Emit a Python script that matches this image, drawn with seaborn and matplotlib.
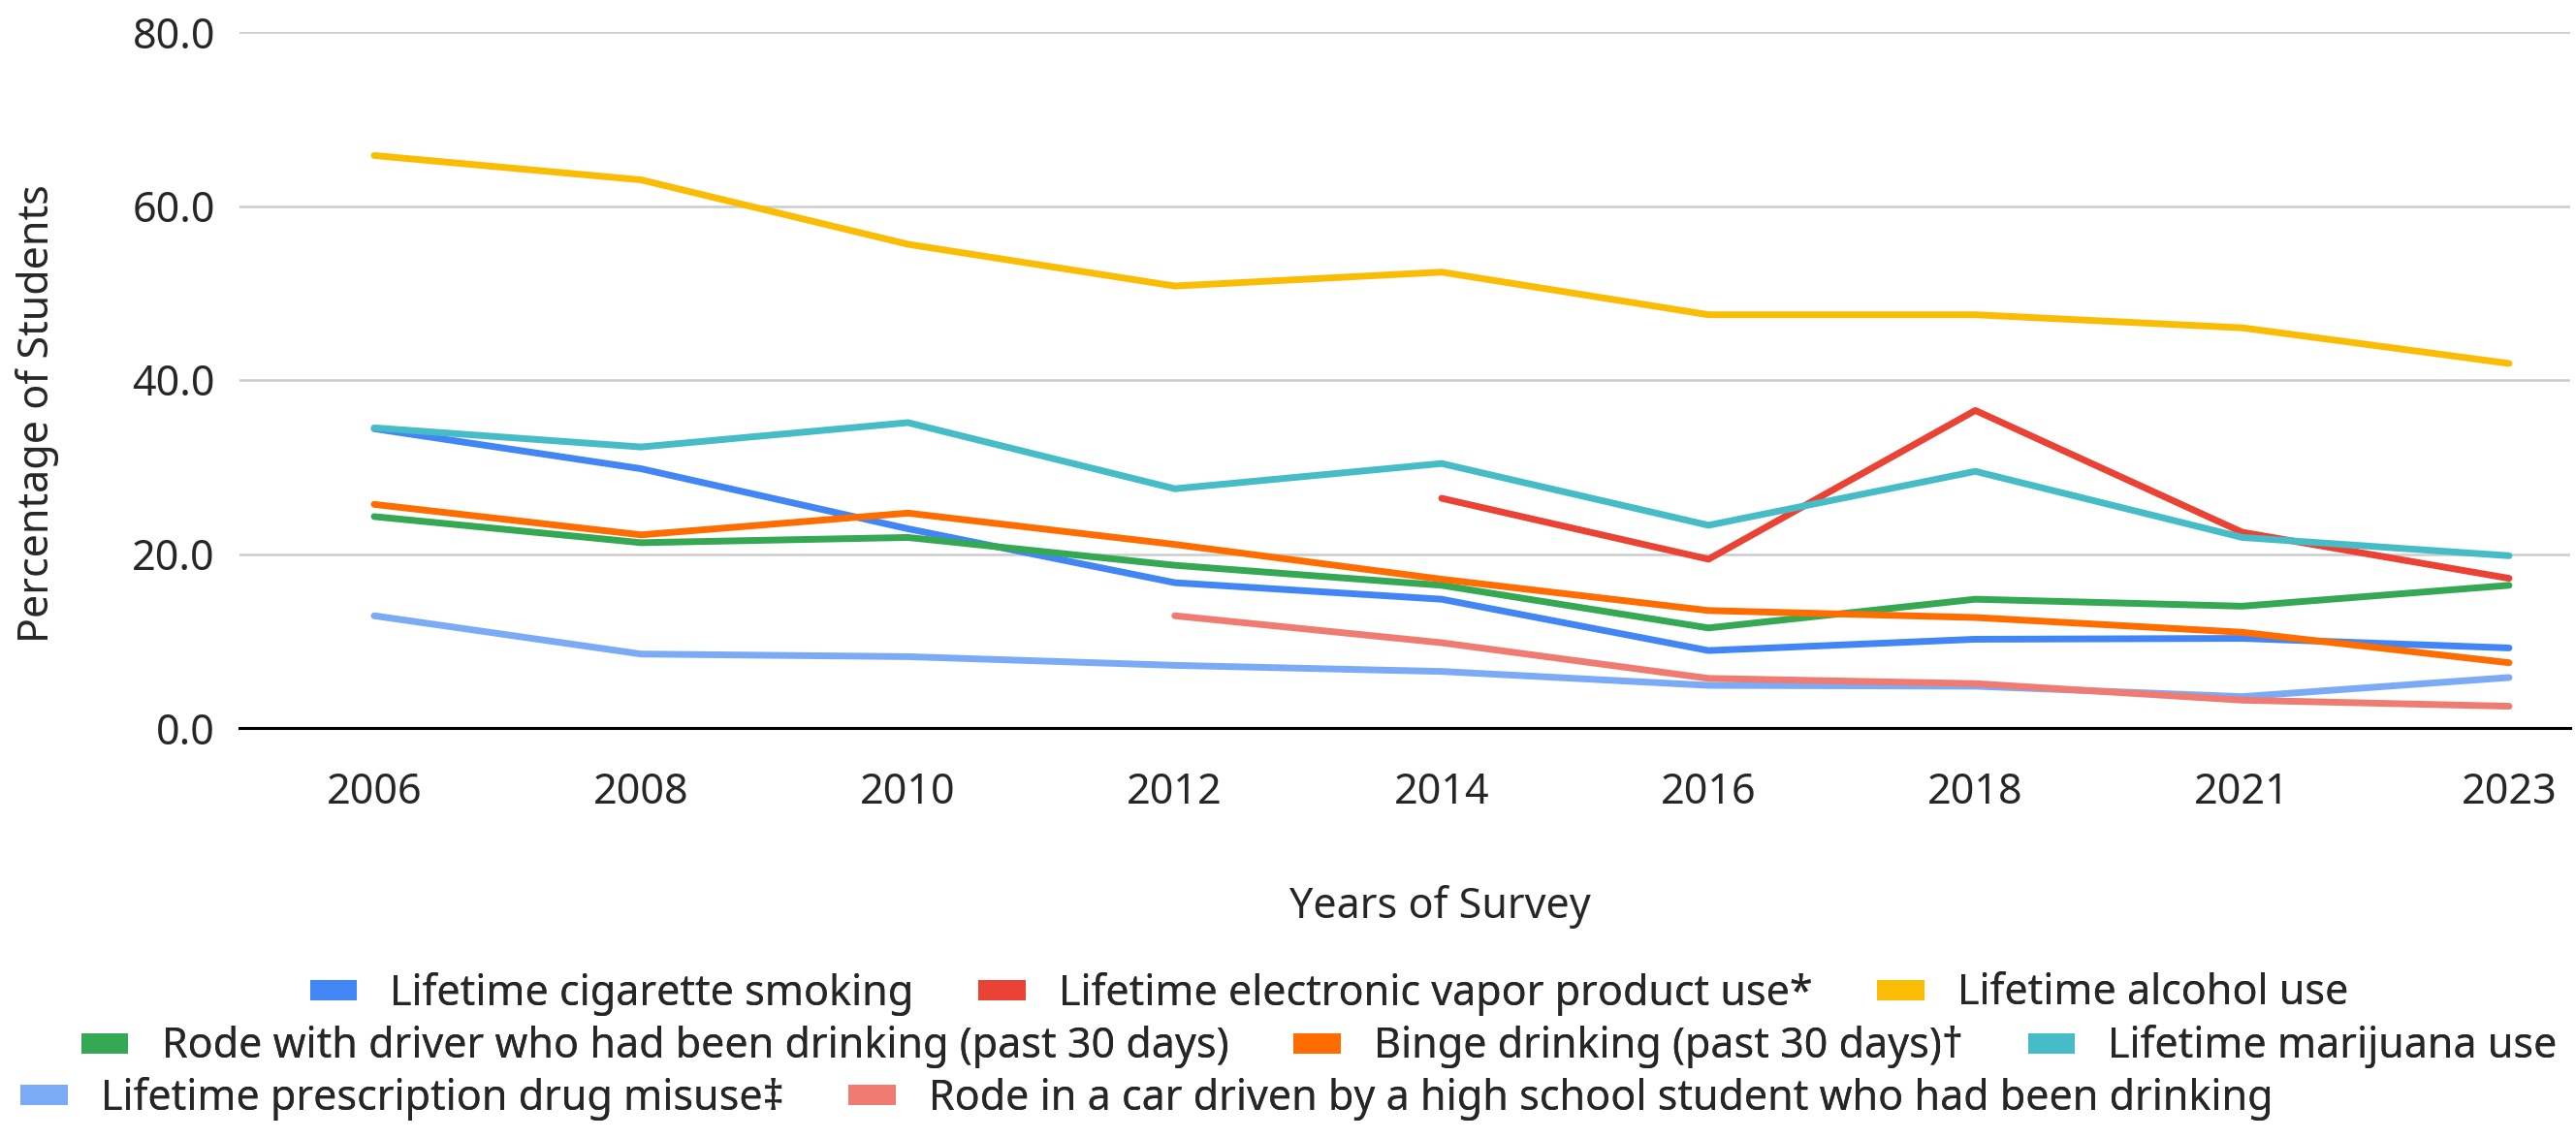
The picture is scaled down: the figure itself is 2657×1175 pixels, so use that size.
import matplotlib
matplotlib.use("Agg")
import matplotlib.pyplot as plt
from matplotlib.patches import Patch
import seaborn as sns
import numpy as np
import pandas as pd

years = ["2006", "2008", "2010", "2012", "2014", "2016", "2018", "2021", "2023"]

cigarette = [34.4, 29.8, 22.9, 16.7, 14.8, 8.9, 10.2, 10.3, 9.2]
vapor = [np.nan, np.nan, np.nan, np.nan, 26.4, 19.4, 36.5, 22.5, 17.2]
alcohol = [65.8, 63.0, 55.6, 50.8, 52.4, 47.5, 47.5, 46.0, 41.9]
rode_driver = [24.3, 21.3, 21.9, 18.7, 16.4, 11.5, 14.8, 14.0, 16.4]
binge = [25.7, 22.2, 24.7, 21.1, 17.1, 13.5, 12.7, 11.0, 7.5]
marijuana = [34.5, 32.3, 35.1, 27.5, 30.4, 23.3, 29.5, 21.9, 19.8]
rx_misuse = [12.9, 8.5, 8.2, 7.2, 6.5, 4.9, 4.8, 3.6, 5.8]
rode_student = [np.nan, np.nan, np.nan, 12.9, 9.8, 5.7, 5.1, 3.2, 2.5]

labels = [
    "Lifetime cigarette smoking",
    "Lifetime electronic vapor product use*",
    "Lifetime alcohol use",
    "Rode with driver who had been drinking (past 30 days)",
    "Binge drinking (past 30 days)\u2020",
    "Lifetime marijuana use",
    "Lifetime prescription drug misuse\u2021",
    "Rode in a car driven by a high school student who had been drinking",
]
colors = ["#4285F4", "#EA4335", "#FBBC04", "#34A853",
          "#FF6D01", "#46BDC6", "#7BAAF7", "#F07B72"]
series = [cigarette, vapor, alcohol, rode_driver, binge, marijuana, rx_misuse, rode_student]

rows = []
for lab, vals in zip(labels, series):
    for yr, v in zip(years, vals):
        rows.append({"Year": yr, "Value": v, "Series": lab})
df = pd.DataFrame(rows).dropna()

sns.set_style("white")
plt.rcParams["font.family"] = ["Noto Sans", "DejaVu Sans"]
FS = 31

W, H = 2657, 1175
fig = plt.figure(figsize=(W / 100, H / 100), dpi=100)
ax = fig.add_axes([247 / W, 1 - 751 / H, (2651 - 247) / W, (751 - 33) / H])

sns.lineplot(data=df, x="Year", y="Value", hue="Series", hue_order=labels,
             palette=dict(zip(labels, colors)), linewidth=5, errorbar=None,
             legend=False, ax=ax)

ax.set_xlim(-0.505, 8.229)
ax.set_ylim(0, 80)
ax.set_yticks([0, 20, 40, 60, 80])
ax.set_yticklabels([f"{v:.1f}" for v in [0, 20, 40, 60, 80]])
ax.yaxis.grid(True, color="#cccccc", linewidth=1.8)
ax.xaxis.grid(False)
for s in ["left", "right", "top"]:
    ax.spines[s].set_visible(False)
ax.spines["bottom"].set_color("black")
ax.spines["bottom"].set_linewidth(2.2)
ax.tick_params(axis="x", direction="inout", length=33, width=2.2, color="black",
               labelsize=FS, pad=16)
ax.tick_params(axis="y", length=0, labelsize=FS, pad=18)
ax.set_xlabel("")
ax.set_ylabel("")

fig.text(1485 / W, 1 - 947 / H, "Years of Survey", ha="center", va="baseline", fontsize=FS)
fig.text(39 / W, 1 - 427 / H, "Percentage of Students", ha="center", va="center",
         rotation=90, fontsize=FS)

# legend rows laid out like the original wrapped legend
legend_rows = [([0, 1, 2], 1371, 1025), ([3, 4, 5], 1361, 1080), ([6, 7], 1183, 1133)]
for idx, cx, cy in legend_rows:
    handles = [Patch(facecolor=colors[i], edgecolor="none") for i in idx]
    leg = fig.legend(handles, [labels[i] for i in idx], loc="center",
                     bbox_to_anchor=(cx / W, 1 - cy / H), ncol=len(idx),
                     frameon=False, fontsize=FS, handlelength=1.12, handleheight=0.37,
                     handletextpad=0.8, columnspacing=1.55, borderpad=0,
                     borderaxespad=0)
    fig.add_artist(leg)

fig.savefig("out.png", dpi=100)
